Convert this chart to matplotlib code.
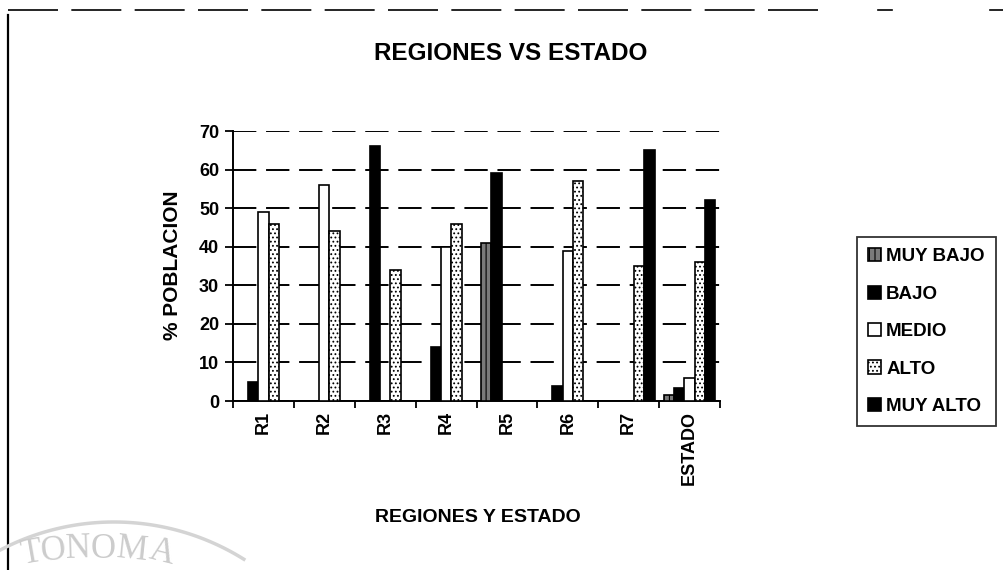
import numpy as np
import matplotlib
matplotlib.use('Agg')
import matplotlib.pyplot as plt

plt.rcParams['font.family'] = ['Liberation Sans', 'DejaVu Sans']
plt.rcParams['font.weight'] = 'bold'
plt.rcParams['hatch.linewidth'] = 0.8

# data (% of population)
categories = ['R1', 'R2', 'R3', 'R4', 'R5', 'R6', 'R7', 'ESTADO']
series_names = ['MUY BAJO', 'BAJO', 'MEDIO', 'ALTO', 'MUY ALTO']
muy_bajo = [0, 0, 0, 0, 41, 0, 0, 1.5]
bajo = [5, 0, 66, 14, 59, 4, 0, 3.5]
medio = [49, 56, 0, 40, 0, 39, 0, 6]
alto = [46, 44, 34, 46, 0, 57, 35, 36]
muy_alto = [0, 0, 0, 0, 0, 0, 65, 52]
y_ticks = [0, 10, 20, 30, 40, 50, 60, 70]

styles = [
    dict(facecolor='#7a7a7a', hatch='|||'),
    dict(facecolor='black'),
    dict(facecolor='white'),
    dict(facecolor='white', hatch='....'),
    dict(facecolor='black'),
]

W, H = 1004, 570
fig = plt.figure(figsize=(W / 100, H / 100), dpi=100)
fig.patch.set_facecolor('white')

# background layer in pixel coords for the scanned page border + watermark
bg = fig.add_axes([0, 0, 1, 1], zorder=-5)
bg.set_xlim(0, W)
bg.set_ylim(H, 0)
bg.axis('off')
bg.plot([8, 8], [15, H], color='black', lw=1.6)
bg.plot([8, 830], [10, 10], color='black', lw=1.2, linestyle=(0, (30, 8)))
bg.plot([878, 892], [10, 10], color='black', lw=1.2)
bg.plot([990, W], [10, 10], color='black', lw=1.2)
wm_letters = ['T', 'O', 'N', 'O', 'M', 'A']
wm_x = [31, 53, 78, 103, 132, 162]
wm_y = [554, 551, 549, 549, 550, 553]
wm_rot = [10, 6, 2, 0, -6, -14]
for ch, xx, yy, rr in zip(wm_letters, wm_x, wm_y, wm_rot):
    bg.text(xx, yy, ch, ha='center', va='center', rotation=rr, fontsize=25,
            color='#cccccc', family=['Liberation Serif', 'DejaVu Serif'],
            fontweight='normal')
t = np.linspace(np.radians(-30), np.radians(32), 100)
bg.plot(114 + 245 * np.sin(t), 767 - 245 * np.cos(t), color='#d4d4d4', lw=2.5)

# axes box in pixels: x 233..720, y 131..401
ax = fig.add_axes([233 / W, 1 - 401 / H, 487 / W, 270 / H])

x = np.arange(len(categories))
width = 0.17
all_series = [muy_bajo, bajo, medio, alto, muy_alto]
handles = []
for i, (vals, st) in enumerate(zip(all_series, styles)):
    b = ax.bar(x + (i - 2) * width, vals, width, edgecolor='black',
               linewidth=1.2, label=series_names[i], zorder=3, **st)
    handles.append(b)

ax.set_xlim(-0.5, len(categories) - 0.5)
ax.set_ylim(0, 70)
ax.set_yticks(y_ticks)
ax.tick_params(axis='y', labelsize=13, length=6, width=1.3, direction='out', pad=4)
ax.set_xticks(x)
ax.set_xticklabels(categories, rotation=90, fontsize=13)
ax.tick_params(axis='x', length=0, pad=7)
ax.set_xticks(np.arange(len(categories) + 1) - 0.5, minor=True)
ax.tick_params(axis='x', which='minor', length=5, width=1.3, direction='out')

ax.yaxis.grid(True, color='black', linestyle=(0, (12, 5)), linewidth=1.4)
ax.set_axisbelow(True)
for s in ['top', 'right']:
    ax.spines[s].set_visible(False)
ax.spines['left'].set_linewidth(1.4)
ax.spines['bottom'].set_linewidth(1.4)

fig.text(511 / W, 1 - 54 / H, 'REGIONES VS ESTADO', ha='center', va='center',
         fontsize=17.5, fontweight='bold')
fig.text(478 / W, 1 - 517 / H, 'REGIONES Y ESTADO', ha='center', va='center',
         fontsize=14, fontweight='bold')
fig.text(173 / W, 1 - 265 / H, '% POBLACION', ha='center', va='center',
         rotation=90, fontsize=15, fontweight='bold')

leg = fig.legend(handles=handles, labels=series_names, loc='upper left',
                 bbox_to_anchor=(857 / W, 1 - 237 / H), fontsize=13.5,
                 frameon=True, fancybox=False, edgecolor='black',
                 handlelength=0.7, handleheight=0.7, handletextpad=0.25,
                 labelspacing=1.08, borderpad=0.6, borderaxespad=0)
leg.get_frame().set_linewidth(1.3)

fig.savefig('out.png', dpi=100)
